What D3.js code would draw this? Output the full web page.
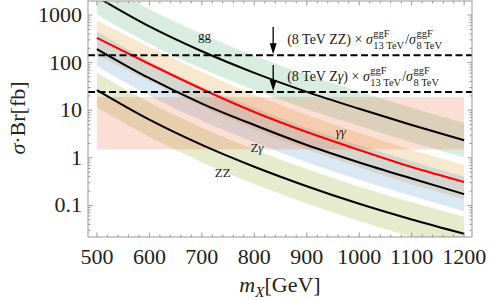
<!DOCTYPE html>
<html>
<head>
<meta charset="utf-8">
<script src="https://cdn.jsdelivr.net/npm/d3@7"></script>
<style>
  body { margin: 0; background: #fff; }
  text { font-family: "Liberation Serif", serif; fill: #222; }
</style>
</head>
<body>
<div id="chart"></div>
<script>
// masses in GeV
var masses = [500, 600, 700, 800, 900, 1000, 1100, 1200];

// sigma*Br in fb: central line and band edges
var ggMid  = [2400, 575, 173, 61, 24.3, 10.7, 4.9, 2.33];
var ggHigh = [5500, 1320, 400, 140, 56, 24.6, 11.3, 5.4];
var ggLow  = [1040, 250, 75, 26.5, 10.6, 4.65, 2.13, 1.01];

var aaMid  = [329, 93.5, 27.9, 9.17, 3.48, 1.46, 0.64, 0.31];
var aaHigh = [757, 215, 64, 21.1, 8.0, 3.36, 1.47, 0.71];
var aaLow  = [143, 40.7, 12.1, 3.99, 1.51, 0.635, 0.278, 0.135];

var zaMid  = [193, 47, 13.8, 4.89, 1.86, 0.80, 0.368, 0.173];
var zaHigh = [444, 108, 31.7, 11.2, 4.28, 1.84, 0.85, 0.40];
var zaLow  = [84, 20.4, 6.0, 2.13, 0.81, 0.348, 0.16, 0.075];

var zzMid  = [26.5, 6.34, 1.87, 0.65, 0.253, 0.108, 0.0506, 0.0254];
var zzHigh = [61, 14.6, 4.3, 1.5, 0.58, 0.248, 0.116, 0.058];
var zzLow  = [11.5, 2.76, 0.81, 0.283, 0.11, 0.047, 0.022, 0.011];

// pink box (mass range, sigma range)
var boxMass = [500, 1200];
var boxSigma = [1.5, 19];

// 8 TeV limits rescaled to 13 TeV
var limitZZ = 143;
var limitZa = 24;
var arrowMass = 836;
var arrowTopZZ = 560, arrowTopZa = 89;

var xTicks = [500, 600, 700, 800, 900, 1000, 1100, 1200];
var yTicks = [0.1, 1, 10, 100, 1000];
var yTickLabels = ["0.1", "1", "10", "100", "1000"];

var W = 491, H = 300;
var margin = { top: 1, right: 19, bottom: 63, left: 88 };

var svg = d3.select("#chart").append("svg")
    .attr("width", W).attr("height", H);

var x = d3.scaleLinear().domain([483, 1215]).range([margin.left, W - margin.right]);
var y = d3.scaleLog().domain([0.0217, 1970]).range([H - margin.bottom, margin.top]);

svg.append("clipPath").attr("id", "clip")
  .append("rect")
    .attr("x", margin.left).attr("y", margin.top)
    .attr("width", W - margin.left - margin.right)
    .attr("height", H - margin.top - margin.bottom);

var plot = svg.append("g").attr("clip-path", "url(#clip)");

function rows(mid, lo, hi) {
  return masses.map(function (m, i) { return { m: m, mid: mid[i], lo: lo[i], hi: hi[i] }; });
}

var series = [
  { name: "gg", rows: rows(ggMid, ggLow, ggHigh), band: "rgb(90,180,120)", line: "#000" },
  { name: "aa", rows: rows(aaMid, aaLow, aaHigh), band: "rgb(232,160,60)", line: "#f00" },
  { name: "za", rows: rows(zaMid, zaLow, zaHigh), band: "rgb(100,160,205)", line: "#000" },
  { name: "zz", rows: rows(zzMid, zzLow, zzHigh), band: "rgb(150,170,50)", line: "#000" }
];

var area = d3.area()
    .x(function (d) { return x(d.m); })
    .y0(function (d) { return y(d.lo); })
    .y1(function (d) { return y(d.hi); })
    .curve(d3.curveMonotoneX);

var line = d3.line()
    .x(function (d) { return x(d.m); })
    .y(function (d) { return y(d.mid); })
    .curve(d3.curveMonotoneX);

series.forEach(function (s) {
  plot.append("path").attr("d", area(s.rows))
      .attr("fill", s.band).attr("fill-opacity", 0.24);
});

// pink box
plot.append("rect")
    .attr("x", x(boxMass[0])).attr("width", x(boxMass[1]) - x(boxMass[0]))
    .attr("y", y(boxSigma[1])).attr("height", y(boxSigma[0]) - y(boxSigma[1]))
    .attr("fill", "rgb(235,98,53)").attr("fill-opacity", 0.21);

series.forEach(function (s) {
  plot.append("path").attr("d", line(s.rows))
      .attr("fill", "none").attr("stroke", s.line).attr("stroke-width", 2);
});

// dashed limits
[limitZZ, limitZa].forEach(function (v) {
  plot.append("line")
      .attr("x1", margin.left).attr("x2", W - margin.right)
      .attr("y1", y(v)).attr("y2", y(v))
      .attr("stroke", "#000").attr("stroke-width", 2)
      .attr("stroke-dasharray", "7,3.5");
});

// arrows
[[arrowTopZZ, limitZZ], [arrowTopZa, limitZa]].forEach(function (a) {
  var ax = x(arrowMass), y0 = y(a[0]), y1 = y(a[1]);
  svg.append("line").attr("x1", ax).attr("x2", ax)
      .attr("y1", y0).attr("y2", y1 - 8)
      .attr("stroke", "#000").attr("stroke-width", 1.3);
  svg.append("path")
      .attr("d", "M" + (ax - 3.5) + "," + (y1 - 12) + "L" + (ax + 3.5) + "," + (y1 - 12) + "L" + ax + "," + (y1 - 1) + "Z")
      .attr("fill", "#000");
});

// annotations: (8 TeV X) x sigma^ggF_13TeV / sigma^ggF_8TeV
function annot(parts, v) {
  var base = y(v) - 11;
  var x0 = x(arrowMass) + 14;
  var t = svg.append("text").attr("x", x0).attr("y", base).attr("font-size", 14);
  parts.forEach(function (p) { t.append("tspan").attr("font-style", p[1]).text(p[0]); });
  t.append("tspan").text(" × ");
  t.append("tspan").attr("font-style", "italic").text("σ");
  var xa = x0 + t.node().getComputedTextLength() + 0.5;
  var sup1 = svg.append("text").attr("x", xa).attr("y", base - 7).attr("font-size", 10.5).text("ggF");
  var sub1 = svg.append("text").attr("x", xa).attr("y", base + 4.5).attr("font-size", 10.5).text("13 TeV");
  var w1 = Math.max(sup1.node().getComputedTextLength(), sub1.node().getComputedTextLength());
  var t2 = svg.append("text").attr("x", xa + w1 + 1).attr("y", base).attr("font-size", 14);
  t2.append("tspan").text("/");
  t2.append("tspan").attr("font-style", "italic").text("σ");
  var xb = xa + w1 + 1 + t2.node().getComputedTextLength() + 0.5;
  svg.append("text").attr("x", xb).attr("y", base - 7).attr("font-size", 10.5).text("ggF");
  svg.append("text").attr("x", xb).attr("y", base + 4.5).attr("font-size", 10.5).text("8 TeV");
}
annot([["(8 TeV ZZ)", "normal"]], limitZZ);
annot([["(8 TeV Z", "normal"], ["γ", "italic"], [")", "normal"]], limitZa);

// curve labels
var labels = [
  { m: 705, v: 300, parts: [["gg", "normal"]] },
  { m: 965, v: 2.9, parts: [["γγ", "italic"]] },
  { m: 805, v: 1.3, parts: [["Z", "normal"], ["γ", "italic"]] },
  { m: 740, v: 0.39, parts: [["ZZ", "normal"]] }
];
labels.forEach(function (l) {
  var t = svg.append("text").attr("x", x(l.m)).attr("y", y(l.v))
      .attr("font-size", 13).attr("text-anchor", "middle");
  l.parts.forEach(function (p) { t.append("tspan").attr("font-style", p[1]).text(p[0]); });
});

// frame
svg.append("rect")
    .attr("x", margin.left).attr("y", margin.top)
    .attr("width", W - margin.left - margin.right)
    .attr("height", H - margin.top - margin.bottom)
    .attr("fill", "none").attr("stroke", "#999").attr("stroke-width", 1);

// ticks
var tickG = svg.append("g").attr("stroke", "#999").attr("stroke-width", 1);
var yb = H - margin.bottom, yt = margin.top, xl = margin.left, xr = W - margin.right;
d3.range(500, 1201, 20).forEach(function (m) {
  var len = (m % 100 === 0) ? 4.5 : 2.5;
  tickG.append("line").attr("x1", x(m)).attr("x2", x(m)).attr("y1", yb).attr("y2", yb - len);
  tickG.append("line").attr("x1", x(m)).attr("x2", x(m)).attr("y1", yt).attr("y2", yt + len);
});
[-2, -1, 0, 1, 2, 3].forEach(function (k) {
  d3.range(1, 10).forEach(function (j) {
    var v = j * Math.pow(10, k);
    if (v < y.domain()[0] || v > y.domain()[1]) return;
    var len = (j === 1) ? 4.5 : 2.5;
    tickG.append("line").attr("x1", xl).attr("x2", xl + len).attr("y1", y(v)).attr("y2", y(v));
    tickG.append("line").attr("x1", xr).attr("x2", xr - len).attr("y1", y(v)).attr("y2", y(v));
  });
});

// tick labels
xTicks.forEach(function (m) {
  svg.append("text").attr("x", x(m)).attr("y", 264)
      .attr("text-anchor", "middle").attr("font-size", 22).text(m);
});
yTicks.forEach(function (v, i) {
  svg.append("text").attr("x", 82).attr("y", y(v) + 7)
      .attr("text-anchor", "end").attr("font-size", 22).text(yTickLabels[i]);
});

// axis titles
var xt = svg.append("text").attr("x", 280).attr("y", 292)
    .attr("text-anchor", "middle").attr("font-size", 22);
xt.append("tspan").attr("font-style", "italic").text("m");
xt.append("tspan").attr("font-style", "italic").attr("font-size", 15).attr("dy", 5).text("X");
xt.append("tspan").attr("dy", -5).text("[GeV]");

var ytt = svg.append("text")
    .attr("transform", "translate(25,118)rotate(-90)")
    .attr("text-anchor", "middle").attr("font-size", 22);
ytt.append("tspan").attr("font-style", "italic").text("σ");
ytt.append("tspan").text("·Br[fb]");
</script>
</body>
</html>
